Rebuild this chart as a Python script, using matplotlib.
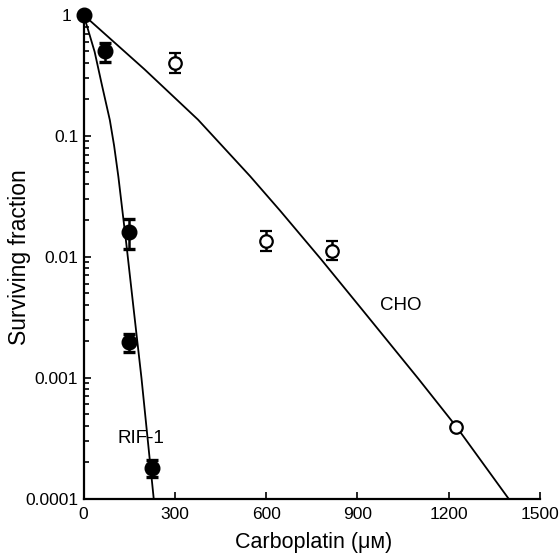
import matplotlib
matplotlib.use("Agg")
import matplotlib.pyplot as plt
import matplotlib.transforms as mtransforms
import numpy as np

plt.rcParams['font.family'] = ['Liberation Sans', 'DejaVu Sans']

# RIF-1 data (filled circles)
rif_x = [0, 70, 150, 150, 225]
rif_y = [1.0, 0.5, 0.016, 0.00196, 0.000179]
rif_lo = [1.0, 0.41, 0.0115, 0.00163, 0.000151]
rif_hi = [1.0, 0.587, 0.0204, 0.0023, 0.000207]

# CHO data (open circles)
cho_x = [300, 600, 815, 1225]
cho_y = [0.40, 0.0135, 0.0112, 0.00039]
cho_lo = [0.334, 0.0112, 0.0094, 0.00039]
cho_hi = [0.483, 0.0163, 0.0135, 0.00039]

# fitted curves
rif_fit_x = [0, 36, 60, 86, 100, 114, 140, 165, 190, 232]
rif_fit_y = [1.0, 0.496, 0.263, 0.135, 0.083, 0.046, 0.0129, 0.00355, 0.00099, 0.0000900]
cho_fit_x = [0, 200, 376, 547, 646, 780, 914, 1100, 1226, 1405]
cho_fit_y = [1.0, 0.355, 0.136, 0.0464, 0.024, 0.00955, 0.00369, 0.00098, 0.00039, 0.0000933]

xticks = [0, 300, 600, 900, 1200, 1500]
yticks = [1e-4, 1e-3, 1e-2, 1e-1, 1]
ytick_labels = ['0.0001', '0.001', '0.01', '0.1', '1']

fig = plt.figure(figsize=(5.59, 5.55), dpi=100)
ax = fig.add_axes([0.1497, 0.1018, 0.966 - 0.1497, 0.973 - 0.1018])

ax.plot(rif_fit_x, rif_fit_y, color='black', lw=1.3, zorder=2)
ax.plot(cho_fit_x, cho_fit_y, color='black', lw=1.3, zorder=2)

def yerr(y, lo, hi):
    y = np.array(y); lo = np.array(lo); hi = np.array(hi)
    return np.vstack([y - lo, hi - y])

ax.errorbar(rif_x, rif_y, yerr=yerr(rif_y, rif_lo, rif_hi), fmt='o', ms=10.5,
            mfc='black', mec='black', ecolor='black', elinewidth=1.8,
            capsize=4.5, capthick=2.4, zorder=4, clip_on=False)
ax.errorbar(cho_x, cho_y, yerr=yerr(cho_y, cho_lo, cho_hi), fmt='o', ms=9,
            mfc='white', mec='black', mew=1.6, ecolor='black', elinewidth=1.8,
            capsize=4.5, capthick=2.4, zorder=4, clip_on=False)

ax.set_yscale('log')
ax.set_xlim(0, 1500)
ax.set_ylim(1e-4, 1)
ax.set_xticks(xticks)
ax.set_xticklabels([str(t) for t in xticks])
ax.set_yticks(yticks)
ax.set_yticklabels(ytick_labels)
ax.yaxis.set_minor_locator(matplotlib.ticker.LogLocator(base=10, subs=np.arange(2, 10)))
ax.yaxis.set_minor_formatter(matplotlib.ticker.NullFormatter())

for s in ['top', 'right']:
    ax.spines[s].set_visible(False)
for s in ['left', 'bottom']:
    ax.spines[s].set_linewidth(1.6)

ax.tick_params(axis='both', which='major', direction='in', length=5, width=1.2,
               labelsize=12.5)
ax.tick_params(axis='x', which='major', pad=6)
ax.tick_params(axis='y', which='major', pad=4)
ax.tick_params(axis='y', which='minor', direction='in', length=3.5, width=1.2)

# shift the "1" label left of the top marker
lab = ax.get_yticklabels()[-1]
lab.set_transform(lab.get_transform() + mtransforms.ScaledTranslation(-5 / 72, 0, fig.dpi_scale_trans))

ax.set_xlabel('Carboplatin (μᴍ)', fontsize=15.5)
ax.set_ylabel('Surviving fraction', fontsize=16.5)
ax.xaxis.set_label_coords(0.505, -0.092)
ax.xaxis.label.set_va('center')
ax.yaxis.set_label_coords(-0.14, 0.5)
ax.yaxis.label.set_va('center')

ax.text(188, 10**(-(440 - 15) / 121.25), 'RIF-1', fontsize=13.5, ha='center', va='center')
ax.text(1043, 10**(-(306.7 - 15) / 121.25), 'CHO', fontsize=13.5, ha='center', va='center')

fig.savefig('out.png', dpi=100)
